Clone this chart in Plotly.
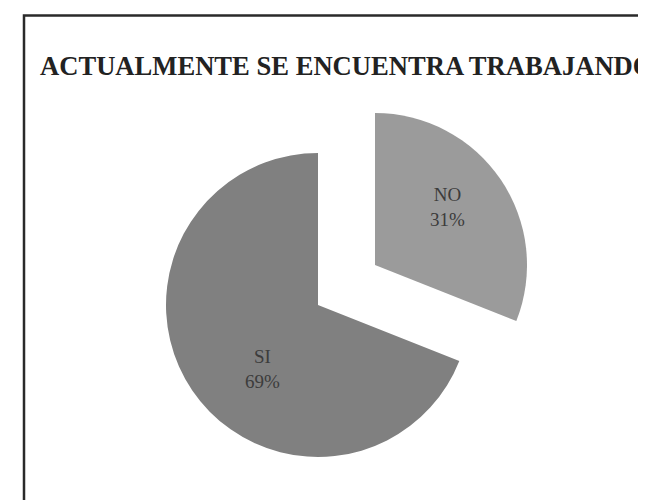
import plotly.graph_objects as go

# ---- data ----
labels = ["NO", "SI"]
values = [31, 69]
colors = ["#9b9b9b", "#808080"]
title_text = "ACTUALMENTE SE ENCUENTRA TRABAJANDO"

# ---- layout geometry (window pixels; page body has an 8px margin) ----
W, H = 646, 500
OFF = 8
R = 152
centers = [(375, 265), (318, 305)]      # slice centres; NO is exploded up-right
label_pos = [(447, 207), (262, 369)]    # label centres


def fx(px):
    return (px - OFF) / W


def fy(py):
    return 1 - (py - OFF) / H


def dom(cx, cy, r):
    return dict(x=[fx(cx - r), fx(cx + r)], y=[fy(cy + r), fy(cy - r)])


fig = go.Figure()
total = sum(values)
for i, (cx, cy) in enumerate(centers):
    mcolors = [colors[j] if j == i else "rgba(0,0,0,0)" for j in range(len(labels))]
    fig.add_trace(go.Pie(
        labels=labels,
        values=values,
        sort=False,
        direction="clockwise",
        rotation=0,
        marker=dict(colors=mcolors, line=dict(width=0)),
        textinfo="none",
        domain=dom(cx, cy, R),
        showlegend=False,
        hoverinfo="skip" if i != 0 else "label+percent",
        automargin=False,
    ))

annotations = []
for i, (lx, ly) in enumerate(label_pos):
    pct = round(100 * values[i] / total)
    annotations.append(dict(
        text=f"{labels[i]}<br>{pct}%",
        x=fx(lx), y=fy(ly), xref="paper", yref="paper",
        xanchor="center", yanchor="middle", showarrow=False,
        font=dict(family="Liberation Serif", size=19, color="#3c3c3c"),
    ))

fig.update_layout(
    width=W, height=H,
    margin=dict(l=0, r=0, t=0, b=0),
    paper_bgcolor="white",
    plot_bgcolor="white",
    title=dict(
        text=title_text,
        font=dict(family="Liberation Serif", size=26.6, color="#222222", weight="bold"),
        x=fx(40), xanchor="left", xref="paper",
        y=fy(65.5), yanchor="middle", yref="container",
    ),
    annotations=annotations,
    shapes=[dict(
        type="rect", xref="paper", yref="paper",
        x0=fx(24), x1=1.2, y0=-0.2, y1=fy(15.5),
        line=dict(color="#2a2a2a", width=2.5),
        fillcolor="rgba(0,0,0,0)",
        layer="above",
    )],
)

fig.write_html("out.html")
